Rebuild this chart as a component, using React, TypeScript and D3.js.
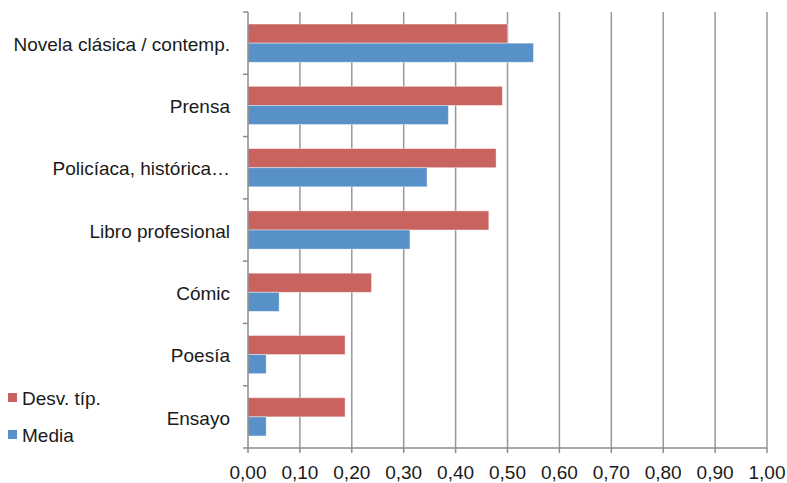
import { useEffect, useRef } from 'react'
import * as d3 from 'd3'

const categories = [
  'Novela clásica / contemp.',
  'Prensa',
  'Policíaca, histórica…',
  'Libro profesional',
  'Cómic',
  'Poesía',
  'Ensayo',
]
const desvTip = [0.50, 0.49, 0.478, 0.464, 0.238, 0.187, 0.187]
const media = [0.55, 0.386, 0.345, 0.312, 0.06, 0.035, 0.035]
const xTicks = [0, 0.1, 0.2, 0.3, 0.4, 0.5, 0.6, 0.7, 0.8, 0.9, 1.0]

const series = [
  { name: 'Desv. típ.', values: desvTip, color: '#c9635f' },
  { name: 'Media', values: media, color: '#5891c8' },
]

export default function App() {
  const svgRef = useRef<SVGSVGElement>(null)

  useEffect(() => {
    if (!svgRef.current) return
    const svg = d3.select(svgRef.current)
    svg.selectAll('*').remove()

    const left = 248
    const right = 767
    const top = 12
    const bottom = 448
    const font = '"Liberation Sans", Arial, sans-serif'
    const fontSize = 19

    const x = d3.scaleLinear().domain([0, 1]).range([left, right])
    const y = d3.scaleBand().domain(categories).range([top, bottom])
    const inner = d3.scaleBand()
      .domain(series.map(s => s.name))
      .range([0, y.bandwidth()])
      .paddingOuter(0.63)
      .paddingInner(0)

    // gridlines
    svg.append('g')
      .selectAll('line')
      .data(xTicks.slice(1))
      .join('line')
      .attr('x1', d => x(d))
      .attr('x2', d => x(d))
      .attr('y1', top)
      .attr('y2', bottom)
      .attr('stroke', '#989898')
      .attr('stroke-width', 1.5)

    // bars
    series.forEach(s => {
      svg.append('g')
        .selectAll('rect')
        .data(categories)
        .join('rect')
        .attr('x', x(0))
        .attr('y', c => y(c)! + inner(s.name)!)
        .attr('width', (c, i) => x(s.values[i]) - x(0))
        .attr('height', inner.bandwidth())
        .attr('fill', s.color)
        .attr('stroke', 'rgba(255,255,255,0.5)')
        .attr('stroke-width', 0.8)
    })

    // y axis
    const yAxis = svg.append('g')
    yAxis.append('line')
      .attr('x1', left).attr('x2', left)
      .attr('y1', top).attr('y2', bottom)
      .attr('stroke', '#8c8c8c').attr('stroke-width', 1.5)
    const yTickPos = categories.map(c => y(c)!).concat([bottom])
    yAxis.selectAll('line.tick')
      .data(yTickPos)
      .join('line')
      .attr('class', 'tick')
      .attr('x1', left - 5).attr('x2', left)
      .attr('y1', d => d).attr('y2', d => d)
      .attr('stroke', '#8c8c8c').attr('stroke-width', 1.5)
    yAxis.selectAll('text')
      .data(categories)
      .join('text')
      .attr('x', left - 18)
      .attr('y', c => y(c)! + y.bandwidth() / 2 + 1)
      .attr('dy', '0.35em')
      .attr('text-anchor', 'end')
      .attr('font-family', font)
      .attr('font-size', fontSize)
      .attr('fill', '#1a1a1a')
      .text(c => c)

    // x axis
    const xAxis = svg.append('g')
    xAxis.append('line')
      .attr('x1', left).attr('x2', right)
      .attr('y1', bottom).attr('y2', bottom)
      .attr('stroke', '#8c8c8c').attr('stroke-width', 1.5)
    xAxis.selectAll('line.tick')
      .data(xTicks)
      .join('line')
      .attr('class', 'tick')
      .attr('x1', d => x(d)).attr('x2', d => x(d))
      .attr('y1', bottom).attr('y2', bottom + 5)
      .attr('stroke', '#8c8c8c').attr('stroke-width', 1.5)
    xAxis.selectAll('text')
      .data(xTicks)
      .join('text')
      .attr('x', d => x(d))
      .attr('y', 472)
      .attr('dy', '0.35em')
      .attr('text-anchor', 'middle')
      .attr('font-family', font)
      .attr('font-size', fontSize)
      .attr('fill', '#1a1a1a')
      .text(d => d3.format('.2f')(d).replace('.', ','))

    // legend
    const legend = svg.append('g')
    series.forEach((s, i) => {
      const ly = 398 + i * 37
      legend.append('rect')
        .attr('x', 8).attr('y', ly - 5)
        .attr('width', 9).attr('height', 9)
        .attr('fill', s.color)
      legend.append('text')
        .attr('x', 22).attr('y', ly)
        .attr('dy', '0.35em')
        .attr('font-family', font)
        .attr('font-size', fontSize)
        .attr('fill', '#1a1a1a')
        .text(s.name)
    })
  }, [])

  return (
    <svg
      ref={svgRef}
      width={787}
      height={483}
      style={{ position: 'absolute', left: 0, top: 0, background: '#fff' }}
    />
  )
}
